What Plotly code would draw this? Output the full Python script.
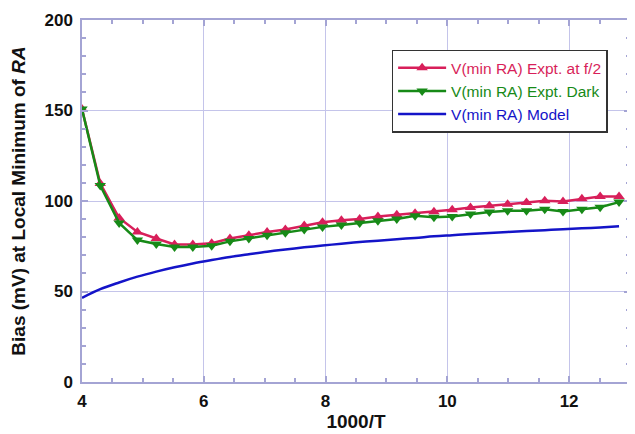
import plotly.graph_objects as go

x_vals = [4.00, 4.30, 4.61, 4.91, 5.22, 5.52, 5.82, 6.13, 6.43, 6.74,
          7.04, 7.34, 7.65, 7.95, 8.26, 8.56, 8.86, 9.17, 9.47, 9.78,
          10.08, 10.38, 10.69, 10.99, 11.30, 11.60, 11.90, 12.21, 12.51, 12.82]

expt_f2 = [150.8, 109.7, 90.6, 82.9, 79.3, 76.0, 76.0, 76.7, 79.3, 81.1,
           82.9, 84.2, 86.4, 88.2, 89.3, 90.0, 91.5, 92.4, 93.3, 94.1,
           95.2, 96.4, 97.4, 98.2, 99.2, 100.1, 99.7, 101.2, 102.5, 102.5]

expt_dark = [150.8, 108.5, 87.9, 78.4, 76.3, 74.6, 74.6, 75.3, 77.7, 79.3,
             81.1, 82.4, 84.2, 85.7, 86.7, 87.9, 89.1, 90.0, 91.9, 91.0,
             91.5, 92.8, 93.9, 94.6, 94.6, 95.5, 94.2, 95.5, 96.6, 99.4]

model = [46.5, 51.3, 55.0, 58.2, 61.0, 63.4, 65.5, 67.4, 69.1, 70.6,
         72.0, 73.2, 74.4, 75.4, 76.4, 77.3, 78.1, 78.9, 79.6, 80.5,
         81.1, 81.7, 82.3, 82.9, 83.4, 83.9, 84.4, 84.9, 85.4, 86.0]

x_ticks = [4, 6, 8, 10, 12]
y_ticks = [0, 50, 100, 150, 200]

series_names = ["V(min RA) Expt. at f/2", "V(min RA) Expt. Dark", "V(min RA) Model"]

RED = "#d81f5a"
GREEN = "#178a17"
BLUE = "#1414c8"
FRAME = "#a4a4d4"
GRID = "#c4c4ea"
FONT = "Liberation Sans, Arial, sans-serif"

fig = go.Figure()
fig.add_trace(go.Scatter(
    x=x_vals, y=expt_f2, mode="lines+markers",
    name=f"<span style='color:{RED}'>{series_names[0]}</span>",
    line=dict(color=RED, width=2.5),
    marker=dict(symbol="triangle-up", size=10, color=RED)))
fig.add_trace(go.Scatter(
    x=x_vals, y=expt_dark, mode="lines+markers",
    name=f"<span style='color:{GREEN}'>{series_names[1]}</span>",
    line=dict(color=GREEN, width=2.5),
    marker=dict(symbol="triangle-down", size=10, color=GREEN)))
fig.add_trace(go.Scatter(
    x=x_vals, y=model, mode="lines",
    name=f"<span style='color:{BLUE}'>{series_names[2]}</span>",
    line=dict(color=BLUE, width=2.5, shape="spline")))

tick_font = dict(size=17, family=FONT, color="#111111", weight="bold")
title_font = dict(size=19, family=FONT, color="#111111", weight="bold")

# page body adds an 8px offset; figure is sized so the plot fills the 635x434 window
fig.update_layout(
    width=627, height=426,
    margin=dict(l=74, r=3, t=9, b=52),
    paper_bgcolor="white", plot_bgcolor="white",
    font=dict(family=FONT),
    showlegend=True,
    legend=dict(
        x=0.565, y=0.918, xanchor="left", yanchor="top",
        bgcolor="white", bordercolor="#333333", borderwidth=1.5,
        font=dict(size=15.5, family=FONT, color="#111111"),
        tracegroupgap=0, itemwidth=48,
    ),
    xaxis=dict(
        range=[4, 13], tickvals=x_ticks,
        showline=True, linecolor=FRAME, linewidth=1.5, mirror="ticks",
        ticks="inside", ticklen=6, tickcolor=FRAME, tickwidth=1.5,
        showgrid=True, gridcolor=GRID, gridwidth=1,
        minor=dict(dtick=0.5, ticks="inside", ticklen=4, tickcolor=FRAME, showgrid=False),
        tickfont=tick_font, ticklabelstandoff=3, ticklabeloverflow="allow",
        title=dict(text="1000/T", font=title_font, standoff=5),
        zeroline=False,
    ),
    yaxis=dict(
        range=[0, 200], tickvals=y_ticks,
        showline=True, linecolor=FRAME, linewidth=1.5, mirror="ticks",
        ticks="inside", ticklen=6, tickcolor=FRAME, tickwidth=1.5,
        showgrid=True, gridcolor=GRID, gridwidth=1,
        minor=dict(dtick=10, ticks="inside", ticklen=4, tickcolor=FRAME, showgrid=False),
        tickfont=tick_font, ticklabelstandoff=4, ticklabeloverflow="allow",
        title=dict(text="Bias (mV) at Local Minimum of <i>RA</i>", font=title_font, standoff=14),
        zeroline=False,
    ),
)

fig.write_html("out.html")
